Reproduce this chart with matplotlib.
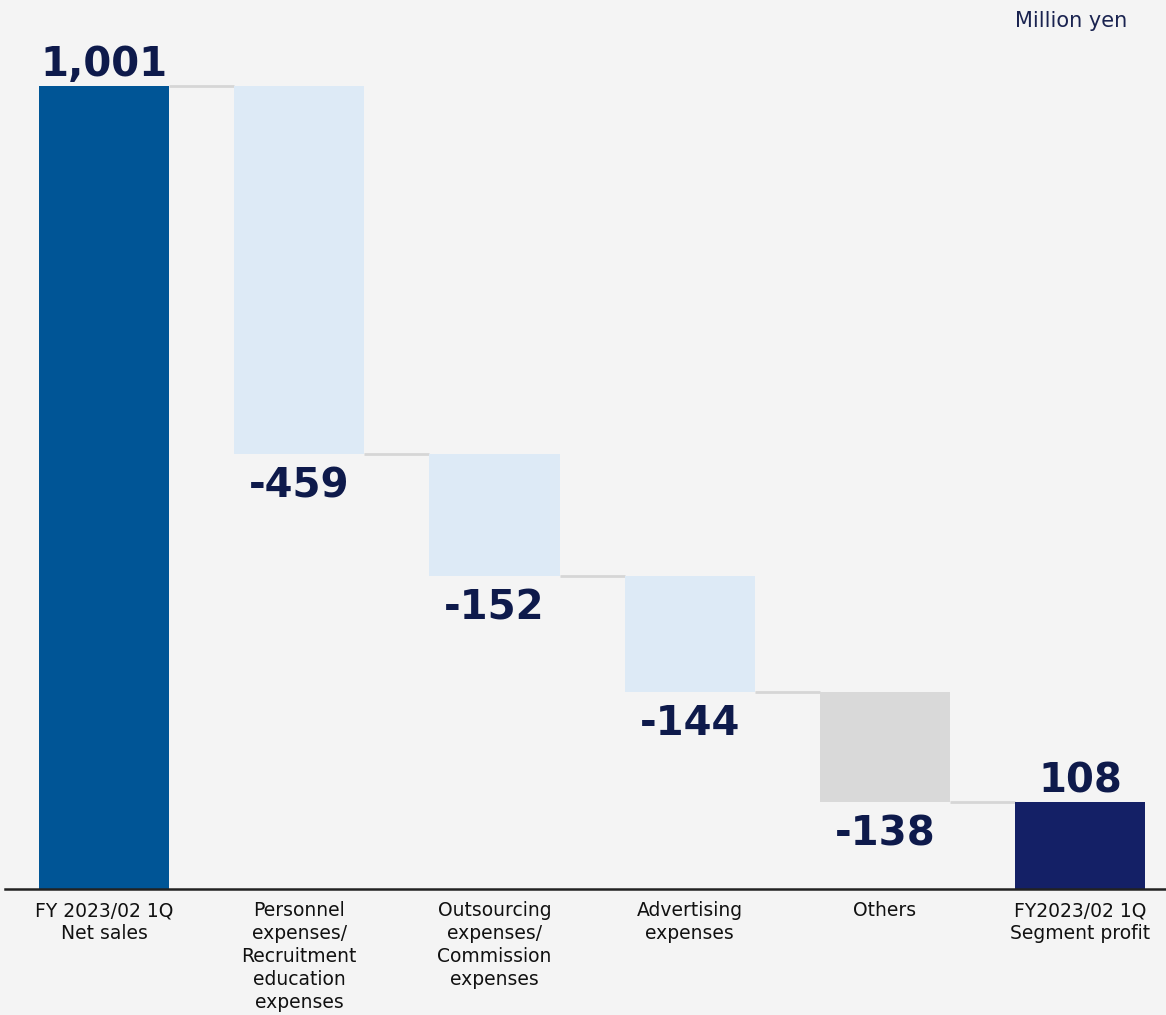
import numpy as np
import matplotlib.pyplot as plt

# Segment profit bridge, million yen
categories = [
    "FY 2023/02 1Q\nNet sales",
    "Personnel\nexpenses/\nRecruitment\neducation\nexpenses",
    "Outsourcing\nexpenses/\nCommission\nexpenses",
    "Advertising\nexpenses",
    "Others",
    "FY2023/02 1Q\nSegment profit",
]
values = [1001, -459, -152, -144, -138, 108]
labels = ["1,001", "-459", "-152", "-144", "-138", "108"]
colors = ["#005596", "#ddeaf6", "#ddeaf6", "#ddeaf6", "#d9d9d9", "#142066"]

BG = "#f4f4f4"
NAVY = "#0e1a4b"

plt.rcParams["font.family"] = ["DejaVu Sans"]

fig = plt.figure(figsize=(11.66, 10.15), dpi=100, facecolor=BG)
ax = fig.add_axes([5 / 1166, 126 / 1015, 1 - 5 / 1166, 1 - 126 / 1015])
ax.set_facecolor(BG)

x = np.arange(len(values))
width = 0.667

# running totals: totals start at zero, deltas hang from previous level
bottoms, tops = [], []
level = 0
for i, v in enumerate(values):
    if i == 0 or i == len(values) - 1:
        b, t = 0, abs(v)
        level = abs(v)
    else:
        b, t = level + v, level
        level = level + v
    bottoms.append(b)
    tops.append(t)

heights = [t - b for b, t in zip(bottoms, tops)]
ax.bar(x, heights, bottom=bottoms, width=width, color=colors, zorder=2)

# connectors between consecutive bars
for i in range(len(values) - 1):
    yl = tops[0] if i == 0 else bottoms[i]
    ax.plot([x[i] + width / 2, x[i + 1] - width / 2], [yl, yl],
            color="#d6d6d6", lw=2, zorder=1, solid_capstyle="butt")

# value labels
for i, v in enumerate(values):
    if v > 0:
        ax.annotate(labels[i], (x[i], tops[i]), xytext=(0, 7),
                    textcoords="offset points", ha="center", va="baseline",
                    fontsize=29, fontweight="bold", color=NAVY)
    else:
        ax.annotate(labels[i], (x[i], bottoms[i]), xytext=(0, -9),
                    textcoords="offset points", ha="center", va="top",
                    fontsize=29, fontweight="bold", color=NAVY)

ax.set_xlim(-0.507, 5.44)
ax.set_ylim(0, 1108)
ax.set_xticks(x)
ax.set_xticklabels(categories, fontsize=13.5, color="#111111", linespacing=1.25)
ax.tick_params(axis="x", length=0, pad=9)
ax.set_yticks([])
for side in ["top", "right", "left"]:
    ax.spines[side].set_visible(False)
ax.spines["bottom"].set_color("#222222")
ax.spines["bottom"].set_linewidth(1.8)

fig.text(1127 / 1166, 1 - 21 / 1015, "Million yen", ha="right", va="center",
         fontsize=15, color="#1a2350")

fig.savefig("out.png", dpi=100, facecolor=BG)
